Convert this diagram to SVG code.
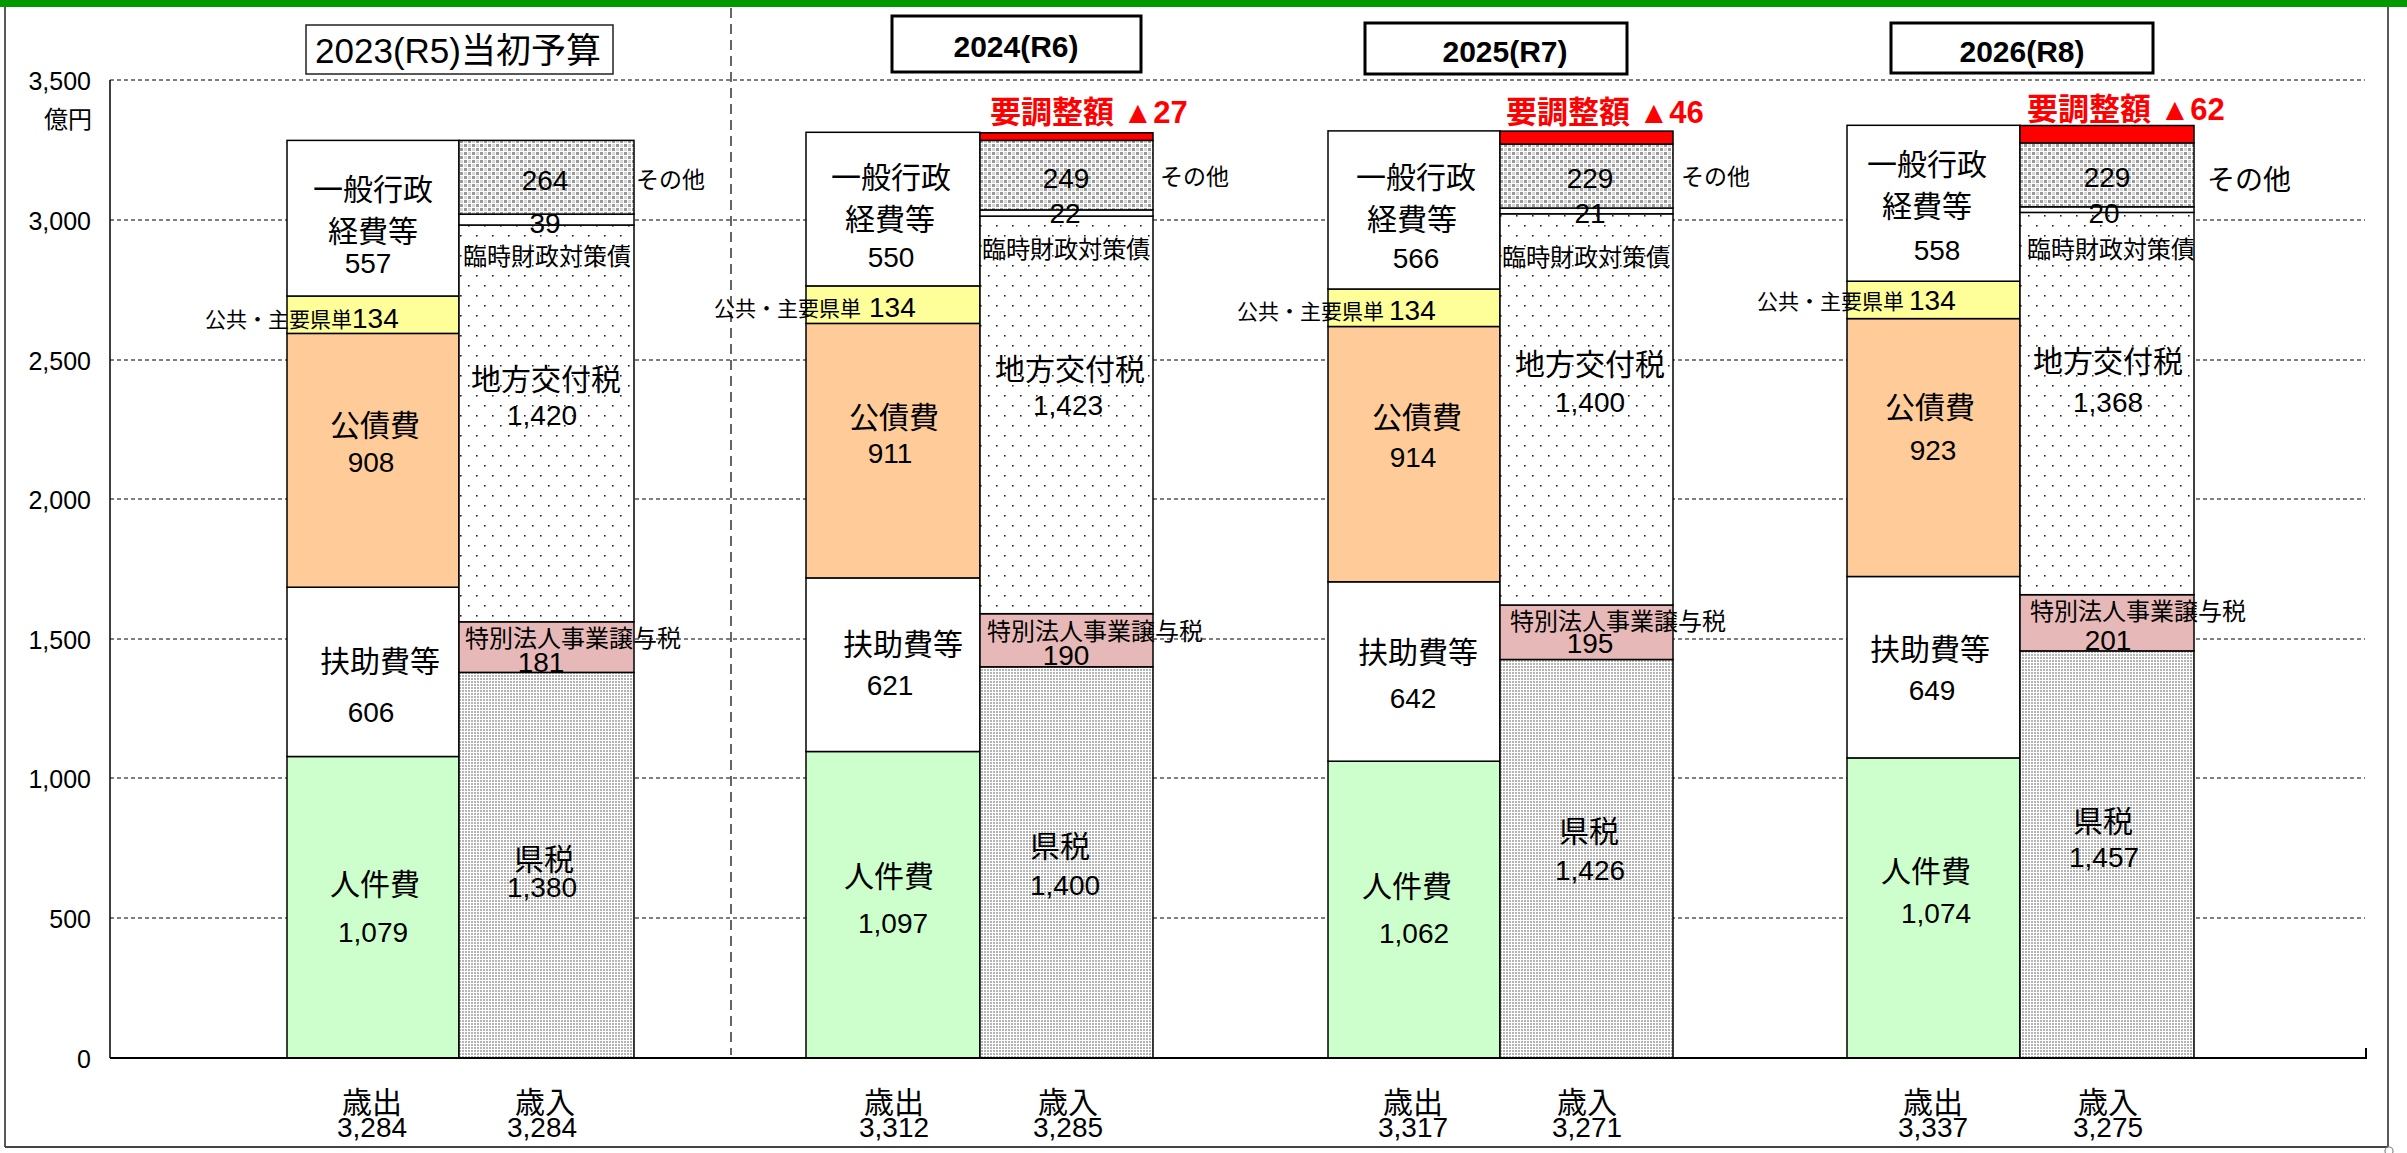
<svg xmlns="http://www.w3.org/2000/svg" width="2407" height="1153" viewBox="0 0 2407 1153">
<style>
text{font-family:"Liberation Sans","Noto Sans CJK JP",sans-serif;fill:#000}
.l{font-size:30px;text-anchor:middle}
.n{font-size:28px;text-anchor:middle}
.ns{font-size:28px;text-anchor:start}
.s{font-size:24px}
.t{font-size:21px;text-anchor:end}
.ax{font-size:25px;text-anchor:end}
.red{fill:#f00;font-weight:bold;font-size:31px}
.yr{font-size:30px;font-weight:bold;text-anchor:middle}
.seg{stroke:#000;stroke-width:1.5}
.grid{stroke:#000;stroke-width:1;stroke-dasharray:4 3;fill:none}
.box{fill:#fff;stroke:#000;stroke-width:3}
</style>
<defs>
<pattern id="pKen" width="3" height="3" patternUnits="userSpaceOnUse"><rect width="3" height="3" fill="#fff"/><rect width="2" height="2" fill="#b4b4b4"/></pattern>
<pattern id="pDot" width="16" height="20" patternUnits="userSpaceOnUse"><rect width="16" height="20" fill="#fff"/><rect x="4" y="5" width="1.6" height="1.6" fill="#222"/><rect x="12" y="15" width="1.6" height="1.6" fill="#222"/></pattern>
<pattern id="pOth" width="8" height="8" patternUnits="userSpaceOnUse"><rect width="8" height="8" fill="#fff"/><rect x="0" y="0" width="3" height="3" fill="#999"/><rect x="4" y="4" width="3" height="3" fill="#999"/><rect x="4" y="0" width="3" height="3" fill="#d6d6d6"/><rect x="0" y="4" width="3" height="3" fill="#d6d6d6"/></pattern>
</defs>
<rect width="2407" height="1153" fill="#fff"/>
<rect x="0" y="0" width="2407" height="7" fill="#009900"/>
<g id="frame" fill="none" stroke="#222">
<line x1="5" y1="7" x2="5" y2="1147" stroke-width="1.5"/>
<line x1="2388" y1="7" x2="2388" y2="1147" stroke-width="1.5"/>
<line x1="5" y1="1147" x2="2388" y2="1147" stroke-width="2" stroke="#444"/>
<circle cx="2389" cy="1151" r="4" stroke="#888" stroke-width="1.2"/>
</g>
<g id="grid">
<line class="grid" x1="110" y1="80" x2="2365" y2="80"/>
<line class="grid" x1="110" y1="220" x2="2365" y2="220"/>
<line class="grid" x1="110" y1="360" x2="2365" y2="360"/>
<line class="grid" x1="110" y1="499" x2="2365" y2="499"/>
<line class="grid" x1="110" y1="639" x2="2365" y2="639"/>
<line class="grid" x1="110" y1="778" x2="2365" y2="778"/>
<line class="grid" x1="110" y1="918" x2="2365" y2="918"/>
<line x1="731" y1="8" x2="731" y2="1055" stroke="#000" stroke-width="1.2" stroke-dasharray="10 6"/>
<line x1="110" y1="80" x2="110" y2="1058" stroke="#000" stroke-width="1.5"/>
<text class="ax" x="91" y="90">3,500</text>
<text class="ax" x="92" y="128" style="font-size:24px">億円</text>
<text class="ax" x="91" y="230">3,000</text>
<text class="ax" x="91" y="370">2,500</text>
<text class="ax" x="91" y="509">2,000</text>
<text class="ax" x="91" y="649">1,500</text>
<text class="ax" x="91" y="788">1,000</text>
<text class="ax" x="91" y="928">500</text>
<text class="ax" x="91" y="1068">0</text>
</g>
<g id="titles">
<g id="title2023"><rect x="306" y="25" width="307" height="49" fill="#fff" stroke="#222" stroke-width="1.5"/><text x="458" y="63" style="font-size:35px;text-anchor:middle">2023(R5)当初予算</text></g>
<g id="title2024"><rect class="box" x="892" y="16" width="249" height="56"/><text class="yr" x="1016" y="57">2024(R6)</text></g>
<g id="title2025"><rect class="box" x="1365" y="23" width="262" height="51"/><text class="yr" x="1505" y="62">2025(R7)</text></g>
<g id="title2026"><rect class="box" x="1891" y="23" width="262" height="50"/><text class="yr" x="2022" y="62">2026(R8)</text></g>
</g>
<g id="bars2023">
<g id="s2023">
<rect class="seg" x="287" y="756.5" width="172" height="301.5" fill="#CCFFCC"/>
<rect class="seg" x="287" y="587.2" width="172" height="169.3" fill="#fff"/>
<rect class="seg" x="287" y="333.4" width="172" height="253.8" fill="#FFCC99"/>
<rect class="seg" x="287" y="296" width="172" height="37.4" fill="#FFFF99"/>
<rect class="seg" x="287" y="140.4" width="172" height="155.6" fill="#fff"/>
<text class="l" x="373" y="200">一般行政</text><text class="l" x="373" y="242">経費等</text><text class="n" x="368" y="273">557</text>
<text class="t" x="352" y="327">公共・主要県単</text><text class="ns" x="352" y="328">134</text>
<text class="l" x="375" y="436">公債費</text><text class="n" x="371" y="472">908</text>
<text class="l" x="380" y="672">扶助費等</text><text class="n" x="371" y="722">606</text>
<text class="l" x="375" y="895">人件費</text><text class="n" x="373" y="942">1,079</text>
</g>
<g id="r2023">
<rect class="seg" x="459" y="672.4" width="175" height="385.6" fill="url(#pKen)"/>
<rect class="seg" x="459" y="621.8" width="175" height="50.6" fill="#E6B8B7"/>
<rect class="seg" x="459" y="225" width="175" height="396.8" fill="url(#pDot)"/>
<rect class="seg" x="459" y="214.1" width="175" height="10.9" fill="#fff"/>
<rect class="seg" x="459" y="140.4" width="175" height="73.7" fill="url(#pOth)"/>
<text class="n" x="545" y="190">264</text><text class="n" x="545" y="233">39</text>
<text class="s" x="463" y="265">臨時財政対策債</text>
<text class="l" x="546" y="390">地方交付税</text><text class="n" x="542" y="425">1,420</text>
<text class="s" x="465" y="647">特別法人事業譲与税</text><text class="n" x="541" y="672">181</text>
<text class="l" x="544" y="870">県税</text><text class="n" x="542" y="897">1,380</text>
<text x="636" y="188" style="font-size:23px">その他</text>
</g>
<text class="l" x="372" y="1113">歳出</text><text class="n" x="372" y="1137">3,284</text>
<text class="l" x="545" y="1113">歳入</text><text class="n" x="542" y="1137">3,284</text>
</g>
<g id="bars2024">
<g id="s2024">
<rect class="seg" x="806" y="751.5" width="174" height="306.5" fill="#CCFFCC"/>
<rect class="seg" x="806" y="577.9" width="174" height="173.6" fill="#fff"/>
<rect class="seg" x="806" y="323.4" width="174" height="254.5" fill="#FFCC99"/>
<rect class="seg" x="806" y="285.9" width="174" height="37.5" fill="#FFFF99"/>
<rect class="seg" x="806" y="132.3" width="174" height="153.6" fill="#fff"/>
<text class="l" x="891" y="188">一般行政</text><text class="l" x="890" y="230">経費等</text><text class="n" x="891" y="267">550</text>
<text class="t" x="861" y="316">公共・主要県単</text><text class="ns" x="869" y="317">134</text>
<text class="l" x="894" y="428">公債費</text><text class="n" x="890" y="463">911</text>
<text class="l" x="903" y="655">扶助費等</text><text class="n" x="890" y="695">621</text>
<text class="l" x="889" y="887">人件費</text><text class="n" x="893" y="933">1,097</text>
</g>
<g id="r2024">
<rect class="seg" x="980" y="666.8" width="173" height="391.2" fill="url(#pKen)"/>
<rect class="seg" x="980" y="613.7" width="173" height="53.1" fill="#E6B8B7"/>
<rect class="seg" x="980" y="216.1" width="173" height="397.6" fill="url(#pDot)"/>
<rect class="seg" x="980" y="209.9" width="173" height="6.2" fill="#fff"/>
<rect class="seg" x="980" y="140.4" width="173" height="69.5" fill="url(#pOth)"/>
<rect class="seg" x="980" y="132.8" width="173" height="7.6" fill="#FF0000"/>
<text class="n" x="1066" y="188">249</text><text class="n" x="1065" y="223">22</text>
<text class="s" x="982" y="258">臨時財政対策債</text>
<text class="l" x="1070" y="380">地方交付税</text><text class="n" x="1068" y="415">1,423</text>
<text class="s" x="987" y="640">特別法人事業譲与税</text><text class="n" x="1066" y="665">190</text>
<text class="l" x="1060" y="857">県税</text><text class="n" x="1065" y="895">1,400</text>
<text x="1160" y="185" style="font-size:23px">その他</text>
<text class="red" x="990" y="123">要調整額 ▲27</text>
</g>
<text class="l" x="894" y="1113">歳出</text><text class="n" x="894" y="1137">3,312</text>
<text class="l" x="1068" y="1113">歳入</text><text class="n" x="1068" y="1137">3,285</text>
</g>
<g id="bars2025">
<g id="s2025">
<rect class="seg" x="1328" y="761.2" width="172" height="296.8" fill="#CCFFCC"/>
<rect class="seg" x="1328" y="581.8" width="172" height="179.4" fill="#fff"/>
<rect class="seg" x="1328" y="326.5" width="172" height="255.3" fill="#FFCC99"/>
<rect class="seg" x="1328" y="289" width="172" height="37.5" fill="#FFFF99"/>
<rect class="seg" x="1328" y="130.9" width="172" height="158.1" fill="#fff"/>
<text class="l" x="1416" y="188">一般行政</text><text class="l" x="1412" y="230">経費等</text><text class="n" x="1416" y="268">566</text>
<text class="t" x="1384" y="319">公共・主要県単</text><text class="ns" x="1389" y="320">134</text>
<text class="l" x="1417" y="428">公債費</text><text class="n" x="1413" y="467">914</text>
<text class="l" x="1418" y="663">扶助費等</text><text class="n" x="1413" y="708">642</text>
<text class="l" x="1407" y="897">人件費</text><text class="n" x="1414" y="943">1,062</text>
</g>
<g id="r2025">
<rect class="seg" x="1500" y="659.5" width="173" height="398.5" fill="url(#pKen)"/>
<rect class="seg" x="1500" y="605" width="173" height="54.5" fill="#E6B8B7"/>
<rect class="seg" x="1500" y="213.8" width="173" height="391.2" fill="url(#pDot)"/>
<rect class="seg" x="1500" y="208" width="173" height="5.8" fill="#fff"/>
<rect class="seg" x="1500" y="144" width="173" height="64" fill="url(#pOth)"/>
<rect class="seg" x="1500" y="131.1" width="173" height="12.9" fill="#FF0000"/>
<text class="n" x="1590" y="188">229</text><text class="n" x="1590" y="223">21</text>
<text class="s" x="1502" y="266">臨時財政対策債</text>
<text class="l" x="1590" y="375">地方交付税</text><text class="n" x="1590" y="412">1,400</text>
<text class="s" x="1510" y="630">特別法人事業譲与税</text><text class="n" x="1590" y="653">195</text>
<text class="l" x="1589" y="842">県税</text><text class="n" x="1590" y="880">1,426</text>
<text x="1681" y="185" style="font-size:23px">その他</text>
<text class="red" x="1506" y="123">要調整額 ▲46</text>
</g>
<text class="l" x="1413" y="1113">歳出</text><text class="n" x="1413" y="1137">3,317</text>
<text class="l" x="1587" y="1113">歳入</text><text class="n" x="1587" y="1137">3,271</text>
</g>
<g id="bars2026">
<g id="s2026">
<rect class="seg" x="1847" y="757.9" width="173" height="300.1" fill="#CCFFCC"/>
<rect class="seg" x="1847" y="576.5" width="173" height="181.4" fill="#fff"/>
<rect class="seg" x="1847" y="318.6" width="173" height="257.9" fill="#FFCC99"/>
<rect class="seg" x="1847" y="281.2" width="173" height="37.4" fill="#FFFF99"/>
<rect class="seg" x="1847" y="125.3" width="173" height="155.9" fill="#fff"/>
<text class="l" x="1927" y="175">一般行政</text><text class="l" x="1927" y="217">経費等</text><text class="n" x="1937" y="260">558</text>
<text class="t" x="1904" y="309">公共・主要県単</text><text class="ns" x="1909" y="310">134</text>
<text class="l" x="1930" y="418">公債費</text><text class="n" x="1933" y="460">923</text>
<text class="l" x="1930" y="660">扶助費等</text><text class="n" x="1932" y="700">649</text>
<text class="l" x="1926" y="882">人件費</text><text class="n" x="1936" y="923">1,074</text>
</g>
<g id="r2026">
<rect class="seg" x="2020" y="650.9" width="174" height="407.1" fill="url(#pKen)"/>
<rect class="seg" x="2020" y="594.7" width="174" height="56.2" fill="#E6B8B7"/>
<rect class="seg" x="2020" y="212.4" width="174" height="382.3" fill="url(#pDot)"/>
<rect class="seg" x="2020" y="206.8" width="174" height="5.6" fill="#fff"/>
<rect class="seg" x="2020" y="142.9" width="174" height="63.9" fill="url(#pOth)"/>
<rect class="seg" x="2020" y="125.5" width="174" height="17.4" fill="#FF0000"/>
<text class="n" x="2107" y="187">229</text><text class="n" x="2104" y="223">20</text>
<text class="s" x="2027" y="258">臨時財政対策債</text>
<text class="l" x="2108" y="372">地方交付税</text><text class="n" x="2108" y="412">1,368</text>
<text class="s" x="2030" y="620">特別法人事業譲与税</text><text class="n" x="2108" y="650">201</text>
<text class="l" x="2103" y="832">県税</text><text class="n" x="2104" y="867">1,457</text>
<text x="2207" y="190" style="font-size:28px">その他</text>
<text class="red" x="2027" y="120">要調整額 ▲62</text>
</g>
<text class="l" x="1933" y="1113">歳出</text><text class="n" x="1933" y="1137">3,337</text>
<text class="l" x="2108" y="1113">歳入</text><text class="n" x="2108" y="1137">3,275</text>
</g>
<g id="axis">
<polyline points="110,1058 2366,1058 2366,1048" fill="none" stroke="#000" stroke-width="2"/>
</g>
<g id="connectors"/>
</svg>
